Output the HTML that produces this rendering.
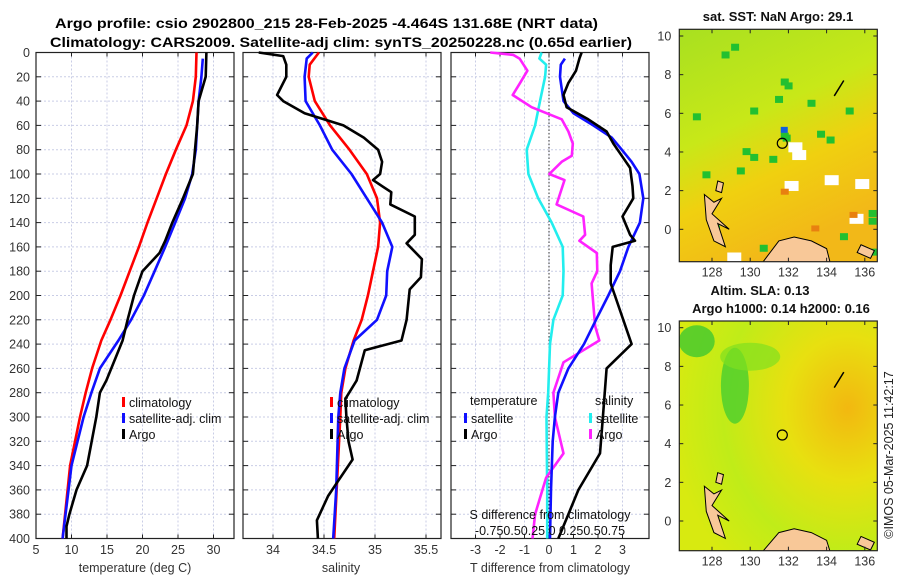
<!DOCTYPE html>
<html><head><meta charset="utf-8"><style>
html,body{margin:0;padding:0;background:#fff;}
svg{display:block;font-family:"Liberation Sans",sans-serif;}
</style></head><body>
<svg id="fig" width="900" height="580" viewBox="0 0 900 580" xmlns="http://www.w3.org/2000/svg">
<text x="55" y="28" font-size="13.5" font-weight="bold" textLength="543" lengthAdjust="spacingAndGlyphs">Argo profile: csio 2902800_215 28-Feb-2025 -4.464S 131.68E (NRT data)</text>
<text x="50" y="47" font-size="13.5" font-weight="bold" textLength="582" lengthAdjust="spacingAndGlyphs">Climatology: CARS2009. Satellite-adj clim: synTS_20250228.nc (0.65d earlier)</text>
<g id="panels"></g>
<g id="maps"></g>
<text transform="translate(893,455) rotate(-90)" font-size="12.5" text-anchor="middle" fill="#222">©IMOS 05-Mar-2025 11:42:17</text>
</svg>
<script>
// ---------- data ----------
const depthTicks = [0,20,40,60,80,100,120,140,160,180,200,220,240,260,280,300,320,340,360,380,400];
const tempTicks = [5,10,15,20,25,30];
const salTicks = [34,34.5,35,35.5];
const diffTicks = [-3,-2,-1,0,1,2,3];

const tClimDepth = [0,20,40,60,80,100,120,140,160,180,200,220,237,260,280,300,340,400];
const tClimVal   = [27.6,27.5,27.1,26.2,24.7,23.3,22.0,20.7,19.5,18.2,16.9,15.5,14.2,12.9,12.0,11.2,9.8,8.75];
const tSatDepth = [5,20,40,60,80,100,120,140,160,180,200,220,237,260,280,300,340,400];
const tSatVal   = [28.5,28.3,27.9,27.7,27.5,27.0,26.0,24.6,23.2,21.7,20.2,18.4,16.6,14.0,12.8,11.7,10.0,8.75];
const tArgoDepth = [0,20,40,60,80,100,120,140,155,165,180,200,220,237,260,270,280,300,340,360,380,390,400];
const tArgoVal   = [29.0,28.9,27.9,27.7,27.4,27.1,25.7,24.2,23.2,22.4,20.0,18.8,17.9,17.2,15.6,14.9,14.0,13.5,12.2,10.7,9.7,9.3,9.3];

const sClimDepth = [0,10,20,40,60,80,100,120,140,160,180,200,220,237,260,280,300,400];
const sClimVal   = [34.45,34.36,34.35,34.41,34.56,34.75,34.92,35.02,35.05,35.03,34.98,34.93,34.87,34.79,34.71,34.67,34.66,34.60];
const sSatDepth = [0,5,20,40,60,80,100,120,140,160,180,200,220,237,260,280,300,360,400];
const sSatVal   = [34.39,34.33,34.31,34.32,34.46,34.58,34.77,34.92,35.07,35.17,35.12,35.11,35.02,34.80,34.70,34.66,34.64,34.62,34.59];
const sArgoDepth = [0,3,10,20,35,40,50,60,70,80,90,100,105,115,125,135,150,157,170,185,195,220,237,245,270,285,300,320,335,355,365,385,400];
const sArgoVal   = [33.86,34.10,34.13,34.13,34.04,34.10,34.31,34.69,34.89,35.03,35.07,35.05,34.98,35.16,35.15,35.39,35.39,35.31,35.46,35.45,35.34,35.31,35.26,34.90,34.82,34.71,34.72,34.74,34.78,34.62,34.54,34.43,34.44];

// differences (temperature in deg C; salinity in psu, plotted S*4 on T axis)
const dTSatDepth = [5,10,20,40,50,60,70,80,90,100,120,140,160,180,200,220,240,260,280,300,320,360,400];
const dTSatVal   = [0.65,0.48,0.45,0.59,1.0,1.81,2.56,2.97,3.37,3.69,3.85,3.71,3.24,2.9,2.42,1.92,1.43,0.79,0.38,0.24,0.15,0.08,0.04];
const dTArgoDepth = [0,5,15,25,35,45,55,65,75,85,95,110,120,135,150,155,160,175,190,200,240,260,300,330,360,380,400];
const dTArgoVal   = [1.33,1.24,1.1,0.79,0.59,0.72,1.6,2.35,2.63,2.97,3.31,3.41,3.44,3.0,3.31,3.51,2.6,2.52,2.52,2.69,3.37,2.35,2.2,2.08,1.2,0.79,0.38];
const dSSatDepth = [0,5,10,20,40,60,80,100,120,140,160,180,200,220,240,280,300,360,400];
const dSSatVal   = [-0.075,-0.098,-0.03,-0.04,-0.092,-0.142,-0.228,-0.21,-0.11,0.028,0.14,0.148,0.14,0.045,0.01,-0.008,-0.025,-0.018,-0.018];
const dSArgoDepth = [0,2,5,15,25,35,45,55,65,75,85,90,100,105,125,135,150,155,165,180,190,225,237,255,280,300,330,350,380,400];
const dSArgoVal   = [-0.60,-0.365,-0.30,-0.22,-0.295,-0.37,-0.178,0.13,0.198,0.243,0.233,0.13,0.003,0.158,0.078,0.35,0.368,0.31,0.488,0.493,0.435,0.47,0.513,0.148,0.045,0.06,0.148,-0.03,-0.142,-0.168];

// ---------- helpers ----------
const NS="http://www.w3.org/2000/svg";
function mk(tag, attrs, parent, text){
  const e=document.createElementNS(NS,tag);
  for(const k in attrs) e.setAttribute(k,attrs[k]);
  if(text!==undefined) e.textContent=text;
  parent.appendChild(e); return e;
}
const Y0=52.5, Y1=538.5;
const yScale = d => Y0 + d*(Y1-Y0)/400;
const panels=document.getElementById('panels');

function axesFrame(g, x0, x1, xticks, xs, labels, name){
  // grid
  xticks.forEach(t=>{ mk('line',{x1:xs(t),x2:xs(t),y1:Y0,y2:Y1,stroke:'#c9cde6','stroke-dasharray':'2,2','stroke-width':1},g); });
  depthTicks.forEach(d=>{ mk('line',{x1:x0,x2:x1,y1:yScale(d),y2:yScale(d),stroke:'#c9cde6','stroke-dasharray':'2,2','stroke-width':1},g); });
  // ticks
  xticks.forEach(t=>{ const x=xs(t);
    mk('line',{x1:x,x2:x,y1:Y1,y2:Y1-4,stroke:'#222'},g);
    mk('line',{x1:x,x2:x,y1:Y0,y2:Y0+4,stroke:'#222'},g);
  });
  depthTicks.forEach(d=>{ const y=yScale(d);
    mk('line',{x1:x0,x2:x0+5,y1:y,y2:y,stroke:'#222'},g);
    mk('line',{x1:x1,x2:x1-5,y1:y,y2:y,stroke:'#222'},g);
  });
  if(labels){
    xticks.forEach(t=>{ const e=mk('text',{x:xs(t),y:554,'font-size':12.5,'text-anchor':'middle',fill:'#333'},g,String(t));
        });
  }
  const f=mk('rect',{x:x0,y:Y0,width:x1-x0,height:Y1-Y0,fill:'none',stroke:'#222','stroke-width':1.2},g);
  
  
}
function line(g, xs, depth, vals, color, name){
  const pts=depth.map((d,i)=>xs(vals[i]).toFixed(1)+','+yScale(d).toFixed(1)).join(' ');
  const p=mk('polyline',{points:pts,fill:'none',stroke:color,'stroke-width':2.6,'stroke-linejoin':'round'},g);
  
  
}
function legendEntry(g,x,y,color,label,nm){
  const lg=mk('g',{},g);
  
  
  mk('rect',{x:x,y:y-9,width:3,height:10,fill:color},lg);
  mk('text',{x:x+7,y:y+1,'font-size':12.5,fill:'#111'},lg,label);
}

// ---------- panel 1: temperature ----------
const g1=mk('g',{},panels);


const xT = t => 36 + (t-5)*7.1;
axesFrame(g1,36,234,tempTicks,xT,true,'temperature-axes');
depthTicks.forEach(d=>{ const e=mk('text',{x:30,y:yScale(d)+4.5,'font-size':12.5,'text-anchor':'end',fill:'#333'},g1,String(d));
    });
line(g1,xT,tClimDepth,tClimVal,'#ff0000','temp-climatology-line');
line(g1,xT,tSatDepth,tSatVal,'#1010ff','temp-satellite-line');
line(g1,xT,tArgoDepth,tArgoVal,'#000','temp-argo-line');
const xl1=mk('text',{x:135,y:572,'font-size':12.5,'text-anchor':'middle',fill:'#333'},g1,'temperature (deg C)');
 
legendEntry(g1,122,406,'#ff0000','climatology','legend-climatology');
legendEntry(g1,122,422,'#1010ff','satellite-adj. clim','legend-satellite-adj');
legendEntry(g1,122,438,'#000','Argo','legend-argo');

// ---------- panel 2: salinity ----------
const g2=mk('g',{},panels);


const xS = s => 273 + (s-34)*102;
axesFrame(g2,243,441,salTicks,xS,true,'salinity-axes');
line(g2,xS,sClimDepth,sClimVal,'#ff0000','sal-climatology-line');
line(g2,xS,sSatDepth,sSatVal,'#1010ff','sal-satellite-line');
line(g2,xS,sArgoDepth,sArgoVal,'#000','sal-argo-line');
const xl2=mk('text',{x:341,y:572,'font-size':12.5,'text-anchor':'middle',fill:'#333'},g2,'salinity');
 
legendEntry(g2,330,406,'#ff0000','climatology','legend-climatology-2');
legendEntry(g2,330,422,'#1010ff','satellite-adj. clim','legend-satellite-adj-2');
legendEntry(g2,330,438,'#000','Argo','legend-argo-2');

// ---------- panel 3: differences ----------
const g3=mk('g',{},panels);


const xD = t => 549 + t*24.5;
const xDS = s => xD(s*4);
axesFrame(g3,451,649,diffTicks,xD,true,'difference-axes');
mk('line',{x1:xD(0),x2:xD(0),y1:Y0,y2:Y1,stroke:'#333','stroke-dasharray':'1.5,2','stroke-width':1},g3);
line(g3,xDS,dSSatDepth,dSSatVal,'#22eeee','sal-diff-satellite-line');
line(g3,xDS,dSArgoDepth,dSArgoVal,'#ff22ff','sal-diff-argo-line');
line(g3,xD,dTSatDepth,dTSatVal,'#1010ff','temp-diff-satellite-line');
line(g3,xD,dTArgoDepth,dTArgoVal,'#000','temp-diff-argo-line');
const xl3=mk('text',{x:550,y:572,'font-size':12.5,'text-anchor':'middle',fill:'#333'},g3,'T difference from climatology');
 
const sl=mk('text',{x:550,y:519,'font-size':12.5,'text-anchor':'middle',fill:'#111'},g3,'S difference from climatology');
 
const sTicks=mk('text',{x:550,y:535,'font-size':12.5,'text-anchor':'middle',fill:'#111'},g3,'-0.750.50.25 0 0.250.50.75');
 
const lt=mk('text',{x:470,y:405,'font-size':12.5,fill:'#111'},g3,'temperature');
 
const ls=mk('text',{x:595,y:405,'font-size':12.5,fill:'#111'},g3,'salinity');
 
legendEntry(g3,464,422,'#1010ff','satellite','legend-temp-satellite');
legendEntry(g3,464,438,'#000','Argo','legend-temp-argo');
legendEntry(g3,589,422,'#22eeee','satellite','legend-sal-satellite');
legendEntry(g3,589,438,'#ff22ff','Argo','legend-sal-argo');

// ---------- maps ----------
const maps=document.getElementById('maps');
const lonTicks=[128,130,132,134,136];
const latTicks=[0,2,4,6,8,10];
function mapAxes(top,bottom,name,kind){
  const g=mk('g',{},maps);
  
  
  const L=679.3,R=877.3;
  const mx = lon => 712 + (lon-128)*19.1;
  const my = lat => (top+6.7+10*19.33) - lat*19.33;
  const id='cl'+kind;
  const cp=mk('clipPath',{id:id},g); mk('rect',{x:L,y:top,width:R-L,height:bottom-top},cp);
  const inner=mk('g',{'clip-path':'url(#'+id+')'},g);
  if(kind==='sst'){
    const gr=mk('linearGradient',{id:'gsst',x1:0,y1:0,x2:0.4,y2:1},g);
    mk('stop',{offset:0,'stop-color':'#a8e020'},gr);
    mk('stop',{offset:0.45,'stop-color':'#c8e818'},gr);
    mk('stop',{offset:0.7,'stop-color':'#f0d010'},gr);
    mk('stop',{offset:1,'stop-color':'#f2b818'},gr);
    mk('rect',{x:L,y:top,width:R-L,height:bottom-top,fill:'url(#gsst)'},inner);
    [[129,9.6],[128.5,9.2],[131.6,7.8],[131.8,7.6],[131.3,6.9],[133,6.7],[135,6.3],[131.6,5],[131.7,4.9],[129.6,4.2],[130,3.9],[131,3.8],[127.5,3],[129.3,3.2],[133.5,5.1],[134,4.8],[136.2,1],[136.2,0.6],[136.3,-1],[128,0.2],[130.5,-0.8],[134.7,-0.2],[127,6],[130,6.3]].forEach(p=>{
      mk('rect',{x:mx(p[0]),y:my(p[1]),width:8,height:7,fill:'#22c030'},inner);});
    [[131.6,5.3]].forEach(p=>{mk('rect',{x:mx(p[0]),y:my(p[1]),width:7,height:6,fill:'#1060e0'},inner);});
    [[132,4.5],[132.2,4.1],[133.9,2.8],[135.5,2.6],[135.2,0.8],[132.6,-1],[128.8,-1.2],[131.8,2.5]].forEach(p=>{
      mk('rect',{x:mx(p[0]),y:my(p[1]),width:14,height:10,fill:'#ffffff'},inner);});
    [[131.6,2.1],[133.2,0.2],[135.2,0.9]].forEach(p=>{mk('rect',{x:mx(p[0]),y:my(p[1]),width:8,height:6,fill:'#e88010'},inner);});
  } else {
    const gr=mk('radialGradient',{id:'gsla',cx:0.85,cy:0.38,r:0.9},g);
    mk('stop',{offset:0,'stop-color':'#f2b810'},gr);
    mk('stop',{offset:0.35,'stop-color':'#e8e010'},gr);
    mk('stop',{offset:0.7,'stop-color':'#c0ec18'},gr);
    mk('stop',{offset:1,'stop-color':'#d8ea10'},gr);
    mk('rect',{x:L,y:top,width:R-L,height:bottom-top,fill:'url(#gsla)'},inner);
    mk('ellipse',{cx:mx(129.2),cy:my(7),rx:14,ry:38,fill:'#40cc30',opacity:0.75},inner);
    mk('ellipse',{cx:mx(127.2),cy:my(9.3),rx:18,ry:16,fill:'#40c830',opacity:0.8},inner);
    mk('ellipse',{cx:mx(130),cy:my(8.5),rx:30,ry:14,fill:'#80e020',opacity:0.7},inner);
  }
  // land (approximate coastlines)
  const land='#f8c898';
  mk('path',{d:`M${mx(130.6)},${bottom+2} L${mx(131.5)},${my(-0.6)} L${mx(132.3)},${my(-0.4)} L${mx(133.2)},${my(-0.6)} L${mx(134)},${my(-1)} L${mx(134.2)},${bottom+2} Z`,fill:land,stroke:'#000','stroke-width':1},inner);
  mk('path',{d:`M${mx(127.6)},${my(1.8)} L${mx(128.1)},${my(1.4)} L${mx(128.5)},${my(1.6)} L${mx(128)},${my(0.8)} L${mx(128.9)},${my(0)} L${mx(128.3)},${my(0.3)} L${mx(128.7)},${my(-0.9)} L${mx(128.1)},${my(-0.6)} L${mx(127.7)},${my(0.5)} Z`,fill:land,stroke:'#000','stroke-width':1},inner);
  mk('path',{d:`M${mx(128.3)},${my(2.5)} L${mx(128.6)},${my(2.4)} L${mx(128.5)},${my(1.9)} L${mx(128.2)},${my(2.0)} Z`,fill:land,stroke:'#000','stroke-width':1},inner);
  mk('path',{d:`M${mx(135.8)},${my(-0.8)} L${mx(136.5)},${my(-1.1)} L${mx(136.3)},${my(-1.5)} L${mx(135.6)},${my(-1.2)} Z`,fill:land,stroke:'#000','stroke-width':1},inner);
  mk('path',{d:`M${mx(134.9)},${my(7.7)} L${mx(134.4)},${my(6.9)}`,stroke:'#000','stroke-width':1.5},inner);
  mk('circle',{cx:mx(131.68),cy:my(4.45),r:5,fill:'none',stroke:'#000','stroke-width':1.2},g);
  // ticks/labels
  lonTicks.forEach(l=>{ const x=mx(l);
    mk('line',{x1:x,x2:x,y1:bottom,y2:bottom-4,stroke:'#222'},g);
    mk('line',{x1:x,x2:x,y1:top,y2:top+4,stroke:'#222'},g);
    const e=mk('text',{x:x,y:bottom+15,'font-size':12.5,'text-anchor':'middle',fill:'#333'},g,String(l));
     });
  latTicks.forEach(l=>{ const y=my(l);
    mk('line',{x1:L,x2:L+4,y1:y,y2:y,stroke:'#222'},g);
    mk('line',{x1:R,x2:R-4,y1:y,y2:y,stroke:'#222'},g);
    const e=mk('text',{x:L-8,y:y+4.5,'font-size':12.5,'text-anchor':'end',fill:'#333'},g,String(l));
     });
  mk('rect',{x:L,y:top,width:R-L,height:bottom-top,fill:'none',stroke:'#222','stroke-width':1.2},g);
}
mapAxes(29.3,261.7,'sst-map','sst');
mapAxes(321,550.7,'sla-map','sla');
[['sst-map-title',778,21,'sat. SST: NaN Argo: 29.1'],['sla-map-title-1',760,295,'Altim. SLA: 0.13'],['sla-map-title-2',781,313,'Argo h1000: 0.14 h2000: 0.16']].forEach(t=>{
  const e=mk('text',{x:t[1],y:t[2],'font-size':13,'font-weight':'bold','text-anchor':'middle',fill:'#111'},maps,t[3]);
  
  
});
</script>
</body></html>
